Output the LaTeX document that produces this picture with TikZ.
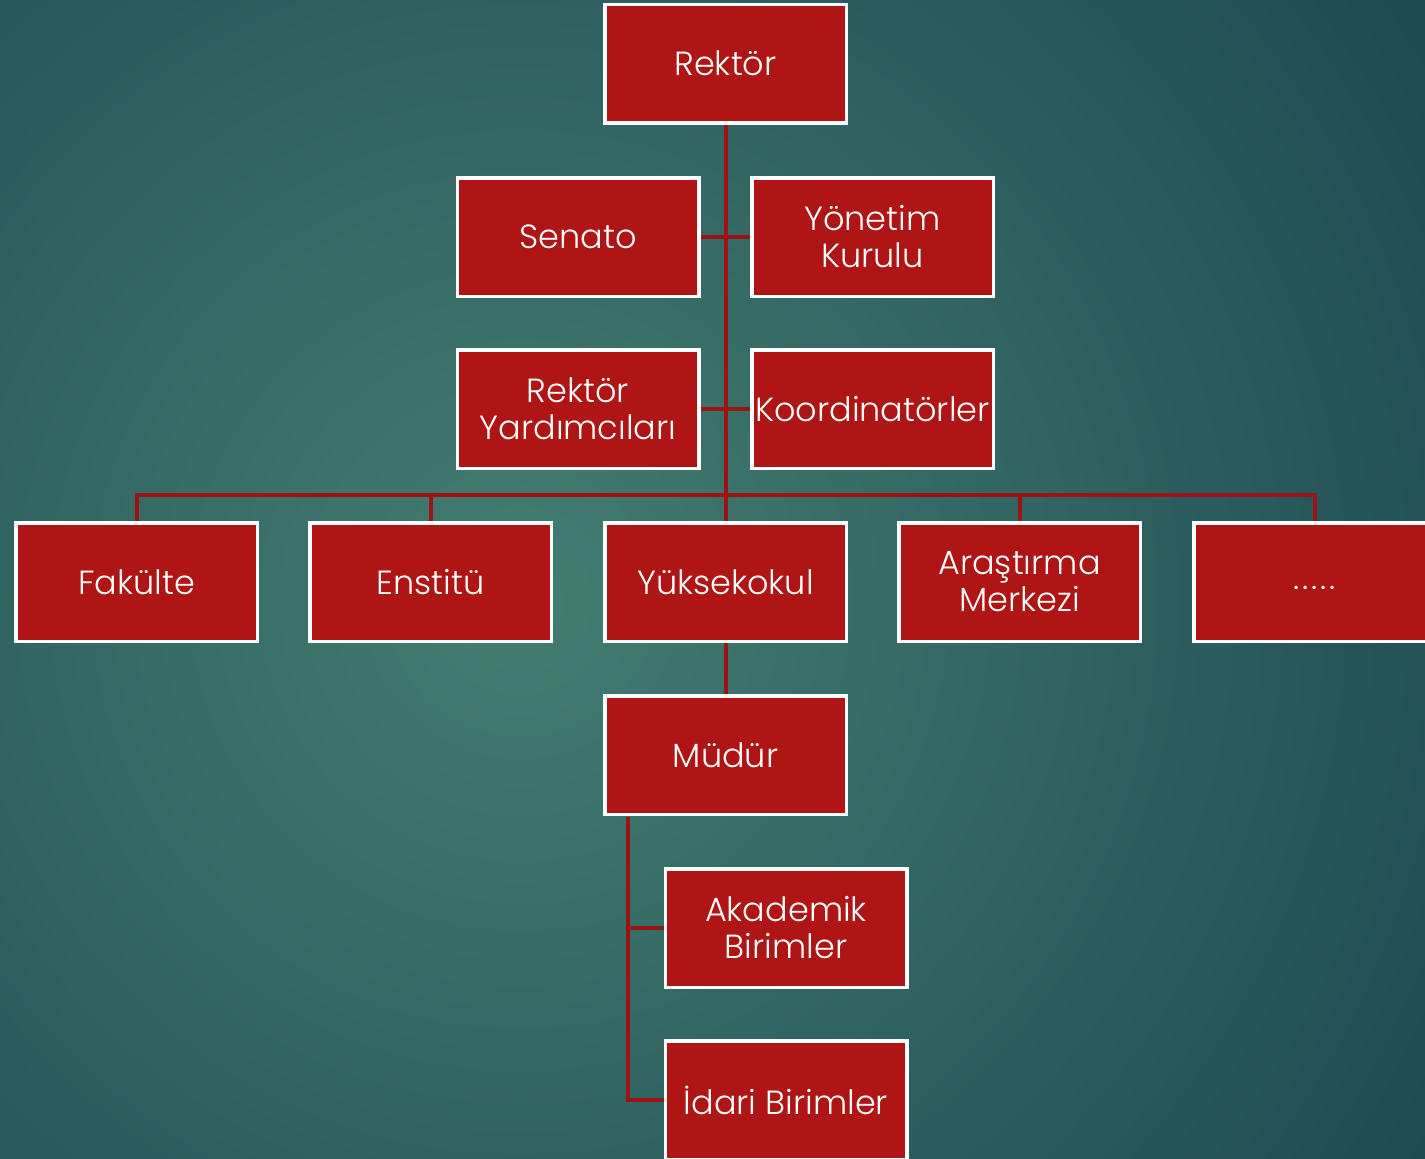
\documentclass[tikz,border=0pt]{standalone}
\usepackage{fontspec}
\setmainfont{Poppins}[UprightFont=* Light]
\definecolor{boxred}{HTML}{B01515}
\definecolor{linered}{HTML}{9A1414}
\definecolor{bgin}{HTML}{437D71}
\definecolor{bgout}{HTML}{1B4650}
\begin{document}
\begin{tikzpicture}[x=1pt,y=-1pt,
  unit/.style={draw=white, line width=3.5pt, fill=boxred, text=white,
    minimum width=241.5pt, minimum height=118.5pt, inner sep=0pt, align=center,
    font=\fontsize{33.5}{37}\selectfont},
  conn/.style={draw=linered, line width=4pt}]
\useasboundingbox (0,0) rectangle (1425,1159);
\clip (0,0) rectangle (1425,1159);
\fill[bgout] (0,0) rectangle (1425,1159);
\shade[inner color=bgin, outer color=bgout] (520,600) circle (1150);
% nodes
\node[unit] (rektor) at (725.5,63.5) {Rektör};
\node[unit] (senato) at (578,237) {Senato};
\node[unit] (yonetim) at (872.5,237) {Yönetim\\Kurulu};
\node[unit] (ryard) at (578,409) {Rektör\\Yardımcıları};
\node[unit] (koord) at (872.5,409) {Koordinatörler};
\node[unit] (fak) at (136.5,582) {Fakülte};
\node[unit] (enst) at (430.5,582) {Enstitü};
\node[unit] (yuksek) at (725.5,582) {Yüksekokul};
\node[unit] (arast) at (1019.5,582) {Araştırma\\Merkezi};
\node[unit] (dots) at (1314.5,582) {\vphantom{Ag}.\kern3pt.\kern3pt.\kern3pt.\kern3pt.};
\node[unit] (mudur) at (725.5,755) {Müdür};
\node[unit] (akad) at (786,928) {Akademik\\Birimler};
\node[unit] (idari) at (786,1100) {İdari Birimler};
% connectors
\coordinate (bar) at (725.5,495);
\coordinate (spine) at (628,817);
\draw[conn] (rektor.south) -- (yuksek.north);
\draw[conn] (senato.east) -- (yonetim.west);
\draw[conn] (ryard.east) -- (koord.west);
\draw[conn] (fak.north) |- (bar) -| (dots.north);
\draw[conn] (enst.north) -- (enst.north |- bar);
\draw[conn] (arast.north) -- (arast.north |- bar);
\draw[conn] (yuksek.south) -- (mudur.north);
\draw[conn] (spine) |- (akad.west);
\draw[conn] (spine) |- (idari.west);
\end{tikzpicture}
\end{document}
